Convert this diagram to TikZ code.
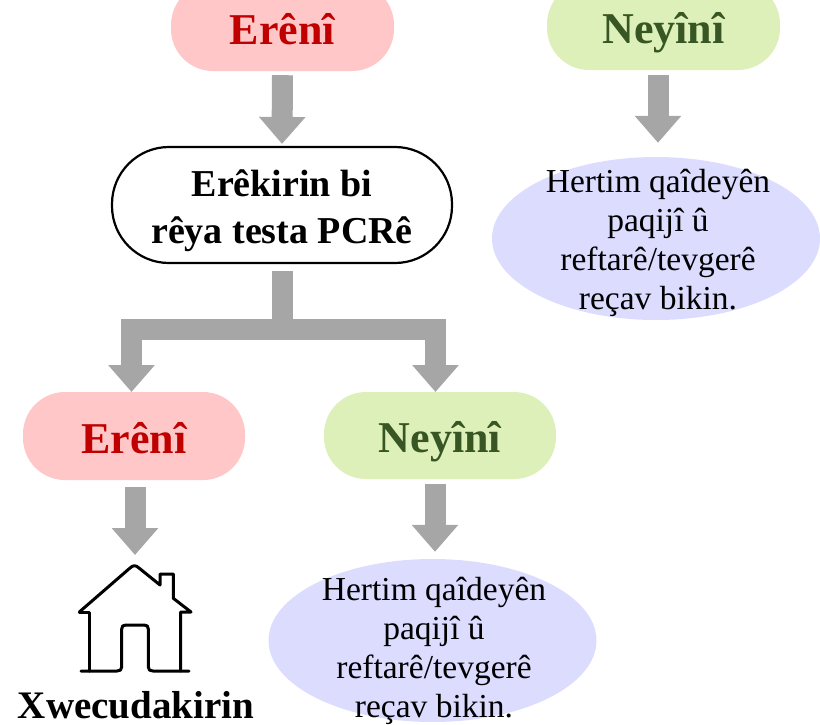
\documentclass[tikz,border=0pt]{standalone}
\usepackage{fontspec}
\setmainfont{Liberation Serif}
\usetikzlibrary{arrows.meta,shapes.geometric}
\definecolor{pinkfill}{HTML}{FFC7C7}
\definecolor{greenfill}{HTML}{DEF0BA}
\definecolor{bluefill}{HTML}{DCDCFF}
\definecolor{redtext}{HTML}{C00000}
\definecolor{greentext}{HTML}{375623}
\definecolor{arrowgray}{HTML}{A6A6A6}
\tikzset{
 x=1pt,y=-1pt,
 result/.style={rounded corners=42pt,inner sep=0pt,text height=40pt,text depth=6pt,font=\bfseries\fontsize{44}{46}\selectfont},
 yes/.style={result,fill=pinkfill,text=redtext},
 no/.style={result,fill=greenfill,text=greentext},
 advice/.style={ellipse,fill=bluefill,inner sep=0pt,minimum width=328pt,minimum height=163pt},
 advicetext/.style={inner sep=0pt,align=center,font=\fontsize{33.5}{39}\selectfont},
 test/.style={draw=black,line width=2.2pt,rounded corners=57pt,minimum width=340pt,minimum height=116pt,inner sep=0pt},
 testtext/.style={inner sep=0pt,align=center,font=\bfseries\fontsize{38}{47}\selectfont},
 fat/.style={draw=arrowgray,line width=21pt,-{Triangle[width=45pt,length=27pt,fill=arrowgray]}},
 bar/.style={draw=arrowgray,line width=21pt},
 icon/.style={draw=black,line width=3pt,line join=round,line cap=round}
}
\begin{document}
\begin{tikzpicture}
\useasboundingbox (0,0) rectangle (820,724);
\node[yes,minimum width=223pt,minimum height=88pt] (e1) at (282.5,27) {Erênî};
\node[no,minimum width=233pt,minimum height=88pt] (n1) at (663.5,26) {Neyînî};
\node[test] (t) at (282,205) {};
\node[testtext] (tt) at (282,211) {Erêkirin bi\\rêya testa PCRê};
\node[advice] (a1) at (656,238.5) {};
\node[advicetext] (a1t) at (658,243) {Hertim qaîdeyên\\paqijî û\\reftarê/tevgerê\\reçav bikin.};
\node[yes,minimum width=222pt,minimum height=88pt] (e2) at (134,436) {Erênî};
\node[no,minimum width=232pt,minimum height=87pt] (n2) at (440,435.5) {Neyînî};
\node[advice] (a2) at (432.5,640.5) {};
\node[advicetext] (a2t) at (434,651) {Hertim qaîdeyên\\paqijî û\\reftarê/tevgerê\\reçav bikin.};
\node[font=\bfseries\fontsize{39}{40}\selectfont,inner sep=0pt,anchor=base] (x) at (136,718) {Xwecudakirin};
\coordinate (house) at (135,555);
\coordinate (j) at (282,329.5);
\coordinate (jl) at (131.5,329.5);
\coordinate (jr) at (435.5,329.5);
\coordinate (lt) at (131.5,392);
\coordinate (rt) at (435.5,392);
\draw[fat] ([yshift=-4pt]e1.south) -- ([yshift=2pt]t.north);
\draw[fat] ([xshift=-5.5pt,yshift=-5pt]n1.south) -- ([xshift=2pt,yshift=14pt]a1.north);
\draw[fat] ([xshift=1pt,yshift=-7pt]e2.south) -- (house);
\draw[fat] ([xshift=-5pt,yshift=-5pt]n2.south) -- ([xshift=2.5pt,yshift=7pt]a2.north);
\draw[bar] ([yshift=-7pt]t.south) -- (j);
\draw[bar] ([xshift=-10.5pt]jl) -- ([xshift=10.5pt]jr);
\draw[fat] ([yshift=-10.5pt]jl) -- (lt);
\draw[fat] ([yshift=-10.5pt]jr) -- (rt);
\draw[icon] (79.3,612) -- (130,568) .. controls (133,565) and (136,565) .. (139,568) -- (160,585) -- (160,574) -- (173.3,574) -- (173.3,598.3) -- (191,612) -- (180.7,612) -- (180.7,671);
\draw[icon] (79.3,612) -- (89.3,612) -- (89.3,671);
\draw[icon] (81,671) -- (117,671) .. controls (120,671) and (121.7,670) .. (121.7,667) -- (121.7,629) .. controls (121.7,626) and (123,625) .. (126,625) -- (144,625) .. controls (147,625) and (148.3,626) .. (148.3,629) -- (148.3,667) .. controls (148.3,670) and (150,671) .. (153,671) -- (189,671);
\end{tikzpicture}
\end{document}
